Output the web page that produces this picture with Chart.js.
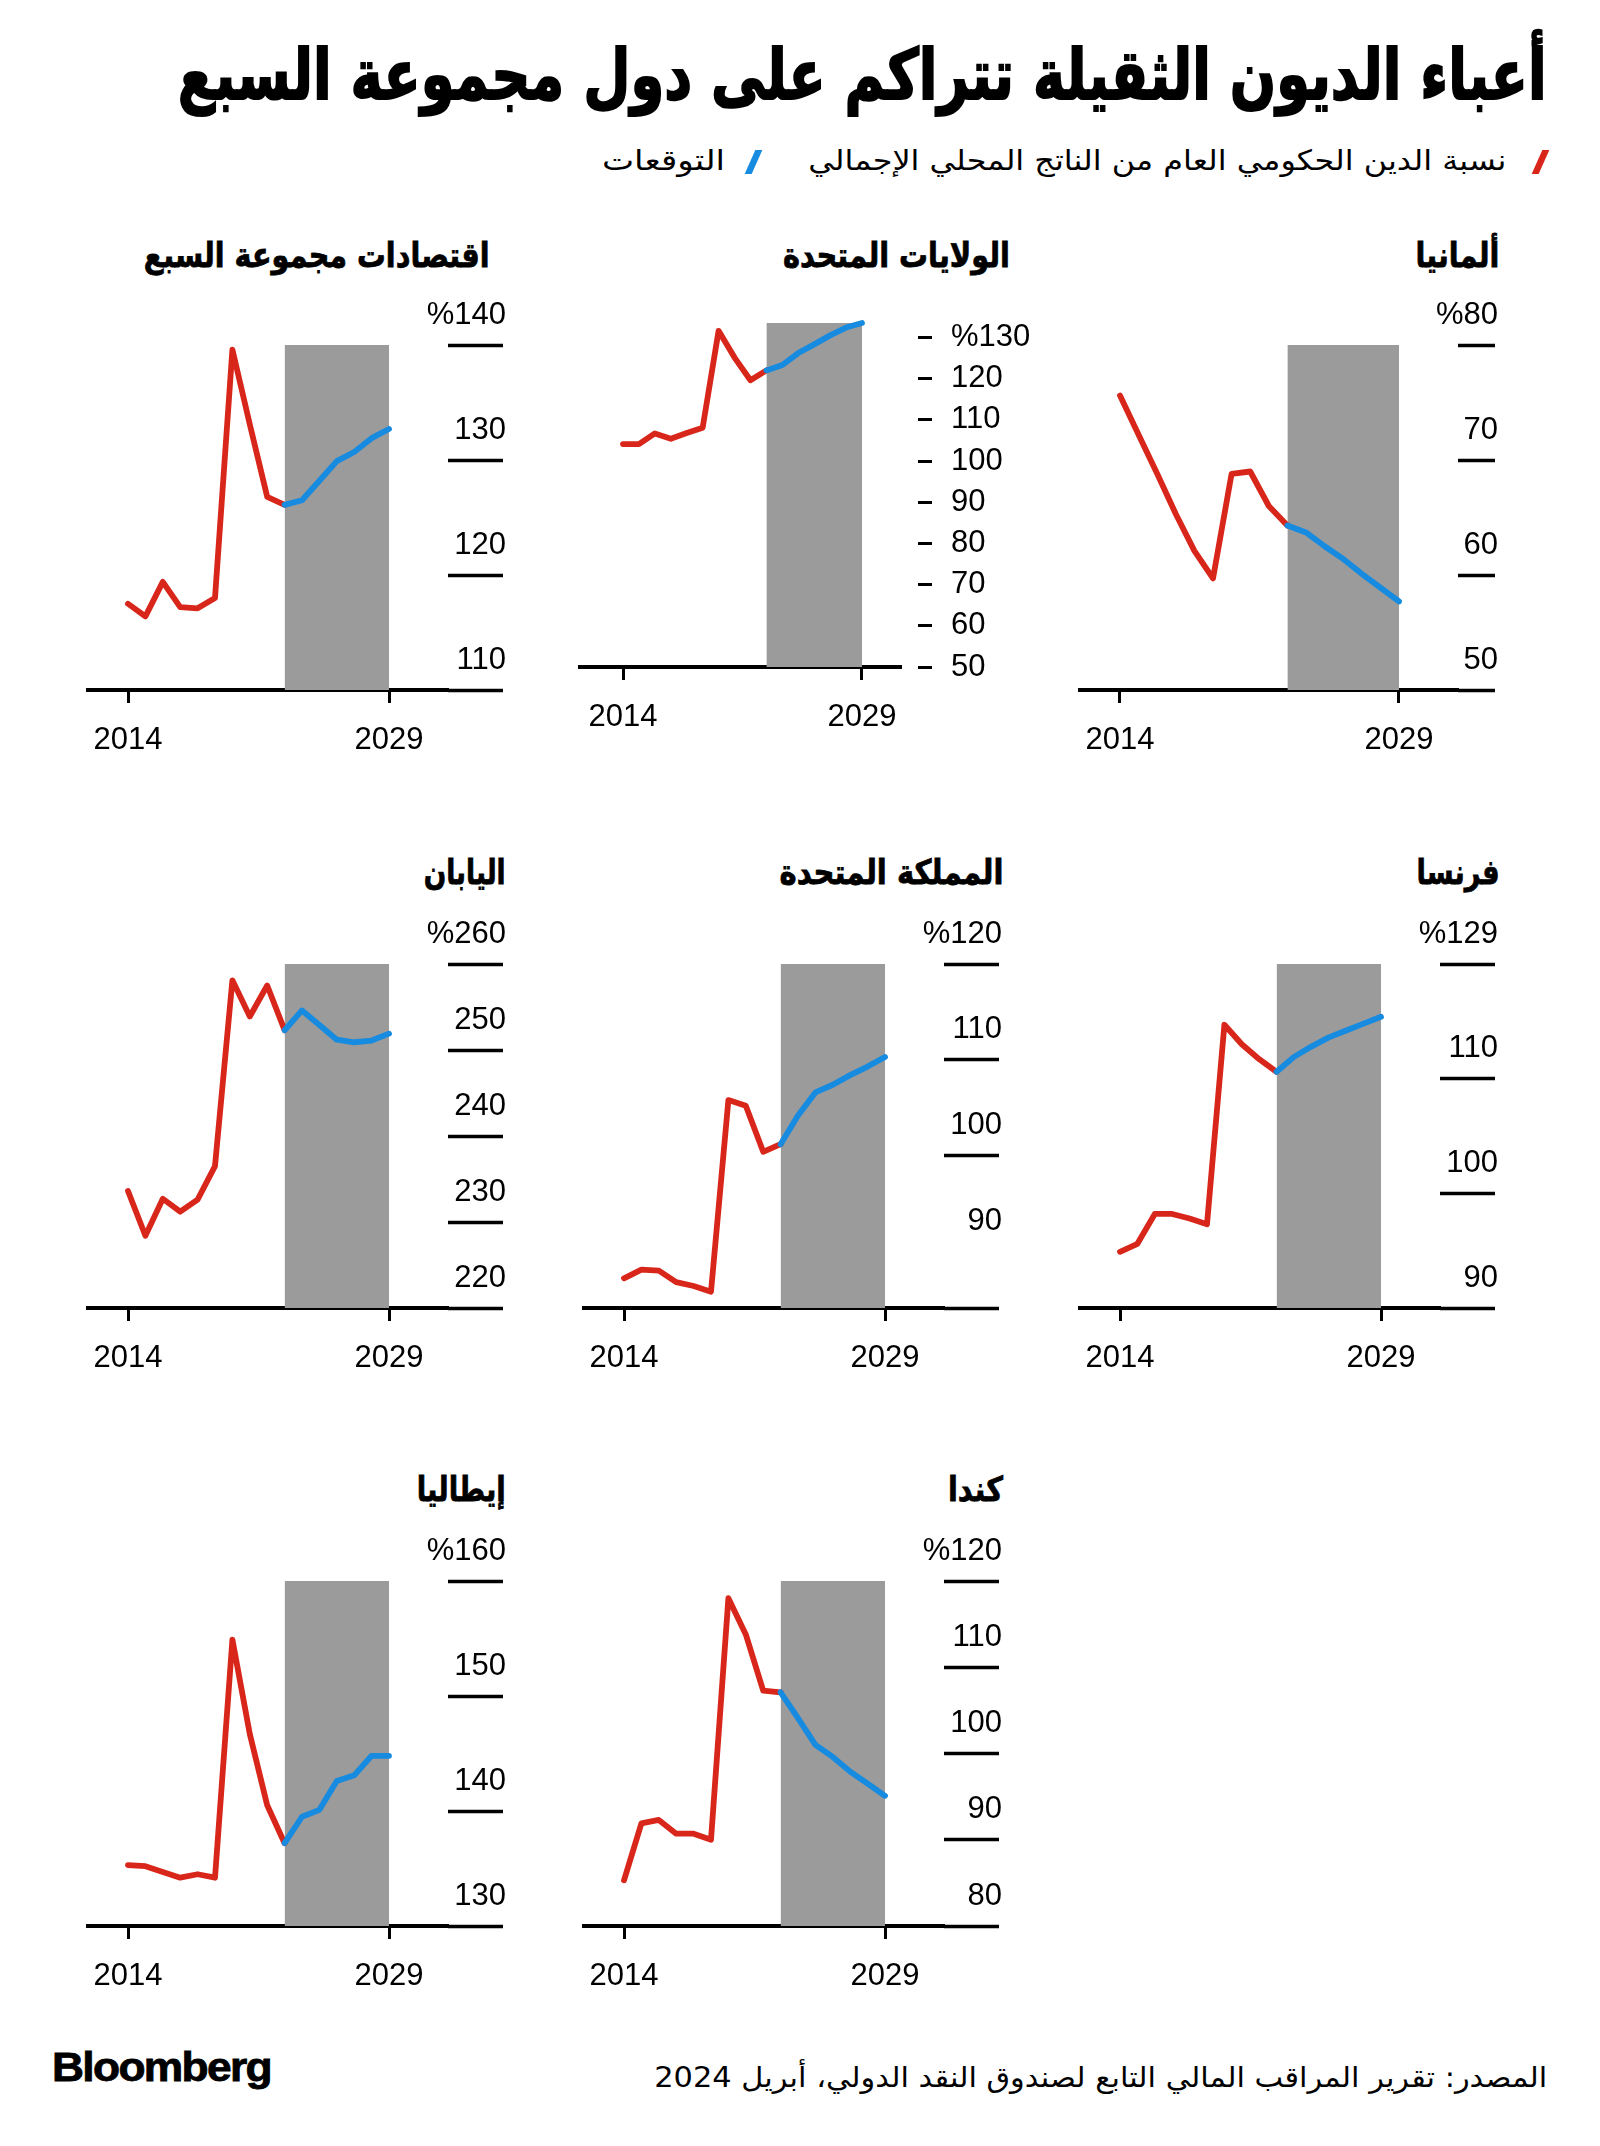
<!DOCTYPE html>
<html lang="ar">
<head>
<meta charset="utf-8">
<script src="https://cdn.jsdelivr.net/npm/chart.js@4.4.1/dist/chart.umd.min.js"></script>
<style>
  body { margin: 0; background: #fff; }
  #page { position: relative; width: 1600px; height: 2146px; overflow: hidden; background: #fff; color: #000; font-family: "DejaVu Sans", sans-serif; }
  .txt { position: absolute; white-space: nowrap; direction: rtl; line-height: 1.2; transform-origin: right center; }
  .title { font-weight: bold; font-size: 70px; -webkit-text-stroke: 2px #000; }
  .legend { font-size: 28px; }
  .ptitle { font-weight: bold; font-size: 34px; -webkit-text-stroke: 0.8px #000; }
  .source { font-size: 28px; }
  .logo { position: absolute; left: 52px; font-family: "Liberation Sans", Arial, sans-serif; font-weight: bold; font-size: 40px; letter-spacing: -1.5px; line-height: 1.2; transform-origin: left center; -webkit-text-stroke: 0.8px #000; }
  .slash { position: absolute; width: 7px; height: 24px; transform: skewX(-24deg); }
  canvas { position: absolute; }
</style>
</head>
<body>
<div id="page"></div>
<script>
// years
const histYears = [2014, 2015, 2016, 2017, 2018, 2019, 2020, 2021, 2022, 2023];
const fcstYears = [2023, 2024, 2025, 2026, 2027, 2028, 2029];
const forecastSpan = [2023, 2029];
const xTickYears = [2014, 2029];

// debt to GDP, %
const g7Hist = [117.5, 116.4, 119.4, 117.2, 117.1, 118.0, 139.6, 133.1, 126.8, 126.1];
const g7Fcst = [126.1, 126.5, 128.2, 129.9, 130.7, 131.9, 132.7];
const usHist = [104.1, 104.1, 106.7, 105.4, 106.8, 108.1, 131.6, 125.1, 119.6, 122.0];
const usFcst = [122.0, 123.3, 126.2, 128.3, 130.5, 132.4, 133.5];
const deHist = [75.6, 72.2, 68.8, 65.3, 62.1, 59.7, 68.8, 69.0, 66.0, 64.3];
const deFcst = [64.3, 63.7, 62.5, 61.4, 60.1, 58.9, 57.7];
const jpHist = [233.6, 228.4, 232.7, 231.2, 232.6, 236.5, 258.1, 253.9, 257.5, 252.3];
const jpFcst = [252.3, 254.6, 252.9, 251.2, 250.9, 251.1, 251.9];
const ukHist = [87.2, 88.1, 88.0, 86.8, 86.4, 85.8, 105.8, 105.2, 100.4, 101.2];
const ukFcst = [101.2, 104.2, 106.6, 107.4, 108.4, 109.3, 110.3];
const frHist = [94.9, 95.6, 98.2, 98.2, 97.8, 97.3, 114.7, 113.0, 111.7, 110.6];
const frFcst = [110.6, 111.9, 112.8, 113.6, 114.2, 114.8, 115.4];
const itHist = [135.3, 135.2, 134.7, 134.2, 134.5, 134.2, 154.9, 146.7, 140.5, 137.2];
const itFcst = [137.2, 139.5, 140.1, 142.6, 143.1, 144.8, 144.8];
const caHist = [85.3, 91.9, 92.3, 90.7, 90.7, 90.0, 118.0, 113.8, 107.3, 107.1];
const caFcst = [107.1, 104.1, 101.0, 99.6, 97.9, 96.5, 95.1];

// y ticks and their labels
const g7Ticks = [110, 120, 130, 140];
const g7Labels = ['110', '120', '130', '%140'];
const usTicks = [50, 60, 70, 80, 90, 100, 110, 120, 130];
const usLabels = ['50', '60', '70', '80', '90', '100', '110', '120', '%130'];
const deTicks = [50, 60, 70, 80];
const deLabels = ['50', '60', '70', '%80'];
const jpTicks = [220, 230, 240, 250, 260];
const jpLabels = ['220', '230', '240', '250', '%260'];
const ukTicks = [84.1, 90, 100, 110, 120];
const ukLabels = ['', '90', '100', '110', '%120'];
const frTicks = [90, 100, 110, 120];
const frLabels = ['90', '100', '110', '%129'];
const itTicks = [130, 140, 150, 160];
const itLabels = ['130', '140', '150', '%160'];
const caTicks = [80, 90, 100, 110, 120];
const caLabels = ['80', '90', '100', '110', '%120'];

const RED = '#d9261b';
const BLUE = '#168be0';
const BAND = '#9b9b9b';
const NUM_FONT = "'Liberation Sans', Arial, sans-serif";
const NUM_SIZE = 31;

const page = document.getElementById('page');

function addText(cls, text, right, cy, fs, width) {
  const el = document.createElement('div');
  el.className = 'txt ' + cls;
  el.textContent = text;
  el.style.right = (1600 - right) + 'px';
  el.style.top = (cy - fs * 0.6) + 'px';
  page.appendChild(el);
  if (width) {
    const w = el.getBoundingClientRect().width;
    el.style.transform = 'scaleX(' + (width / w) + ')';
  }
  return el;
}

function addSlash(x, cy, color) {
  const s = document.createElement('div');
  s.className = 'slash';
  s.style.left = (x - 3) + 'px';
  s.style.top = (cy - 12) + 'px';
  s.style.background = color;
  page.appendChild(s);
}

// header
addText('title', 'أعباء الديون الثقيلة تتراكم على دول مجموعة السبع', 1547, 75, 70, 1369);
addSlash(1540, 162, RED);
addText('legend', 'نسبة الدين الحكومي العام من الناتج المحلي الإجمالي', 1506, 161, 28, 698);
addSlash(753, 162, BLUE);
addText('legend', 'التوقعات', 725, 161, 28, 123);

// footer
addText('source', 'المصدر: تقرير المراقب المالي التابع لصندوق النقد الدولي، أبريل 2024', 1547, 2078, 28, 893);
const logo = document.createElement('div');
logo.className = 'logo';
logo.textContent = 'Bloomberg';
logo.style.top = (2067 - 24) + 'px';
page.appendChild(logo);
logo.style.transform = 'scaleX(' + (219 / logo.getBoundingClientRect().width) + ')';

const measureCtx = document.createElement('canvas').getContext('2d');
measureCtx.font = NUM_SIZE + 'px ' + NUM_FONT;
const textW = (s) => measureCtx.measureText(s).width;

const panels = [
  {title: 'اقتصادات مجموعة السبع', hist: g7Hist, fcst: g7Fcst, ticks: g7Ticks, labels: g7Labels, yMin: 110, yMax: 140,
   left: 86, top: 345, bottom: 690, titleRight: 490, titleW: 346, titleY: 255},
  {title: 'الولايات المتحدة', hist: usHist, fcst: usFcst, ticks: usTicks, labels: usLabels, yMin: 50, yMax: 133.5,
   left: 578, top: 322.5, bottom: 666.6, titleRight: 1010, titleW: 227, titleY: 255, us: true},
  {title: 'ألمانيا', hist: deHist, fcst: deFcst, ticks: deTicks, labels: deLabels, yMin: 50, yMax: 80,
   left: 1078, top: 345, bottom: 690, titleRight: 1499, titleW: 84, titleY: 255},
  {title: 'اليابان', hist: jpHist, fcst: jpFcst, ticks: jpTicks, labels: jpLabels, yMin: 220, yMax: 260,
   left: 86, top: 963.5, bottom: 1307, titleRight: 506, titleW: 82, titleY: 872},
  {title: 'المملكة المتحدة', hist: ukHist, fcst: ukFcst, ticks: ukTicks, labels: ukLabels, yMin: 84.1, yMax: 120,
   left: 582, top: 963.5, bottom: 1307, titleRight: 1003, titleW: 224, titleY: 872, hideTick: [90]},
  {title: 'فرنسا', hist: frHist, fcst: frFcst, ticks: frTicks, labels: frLabels, yMin: 90, yMax: 120,
   left: 1078, top: 963.5, bottom: 1307, titleRight: 1500, titleW: 83, titleY: 872},
  {title: 'إيطاليا', hist: itHist, fcst: itFcst, ticks: itTicks, labels: itLabels, yMin: 130, yMax: 160,
   left: 86, top: 1581, bottom: 1926, titleRight: 506, titleW: 89, titleY: 1489},
  {title: 'كندا', hist: caHist, fcst: caFcst, ticks: caTicks, labels: caLabels, yMin: 80, yMax: 120,
   left: 582, top: 1581, bottom: 1926, titleRight: 1003, titleW: 55, titleY: 1489},
];

function makePanel(p) {
  addText('ptitle', p.title, p.titleRight, p.titleY, 34, p.titleW);

  const widestNum = Math.max(...p.labels.filter(l => l.indexOf('%') < 0).map(textW));
  const tickLen = p.us ? 31 : Math.round(widestNum + 3);
  const axisW = p.us ? 128 : tickLen + 3;
  const chartW = p.us ? 323 : 417 - tickLen;
  const padL = p.us ? 45 : 42;
  const padR = p.us ? 39 : 59;
  const ppy = (chartW - padL - padR) / (xTickYears[1] - xTickYears[0]);
  const xMin = xTickYears[0] - padL / ppy;
  const xMax = xTickYears[1] + padR / ppy;

  const cv = document.createElement('canvas');
  const W = Math.round(chartW + axisW);
  const H = Math.round(p.bottom - p.top + 120);
  cv.width = W; cv.height = H;
  cv.style.left = p.left + 'px';
  cv.style.top = (p.top - 60) + 'px';
  page.appendChild(cv);

  const font = {family: NUM_FONT, size: NUM_SIZE};
  const hide = p.hideTick || [];

  new Chart(cv.getContext('2d'), {
    type: 'line',
    data: {
      datasets: [
        {data: fcstYears.map((x, i) => ({x, y: p.fcst[i]})), borderColor: BLUE, borderWidth: 5.8, order: 0},
        {data: histYears.map((x, i) => ({x, y: p.hist[i]})), borderColor: RED, borderWidth: 5.8, order: 1},
        {data: forecastSpan.map(x => ({x, y: p.yMax})), borderColor: 'rgba(0,0,0,0)', borderWidth: 0,
         backgroundColor: BAND, fill: 'start', order: 2}
      ]
    },
    options: {
      responsive: false,
      animation: false,
      layout: {padding: {top: 60, left: 0, right: 0, bottom: 0}},
      elements: {
        point: {radius: 0},
        line: {tension: 0, borderCapStyle: 'round', borderJoinStyle: 'round'}
      },
      datasets: {line: {clip: false}},
      plugins: {legend: {display: false}, tooltip: {enabled: false}},
      scales: {
        x: {
          type: 'linear', min: xMin, max: xMax,
          afterBuildTicks: s => { s.ticks = xTickYears.map(v => ({value: v})); },
          afterFit: s => { s.height = 60; s.paddingLeft = 0; s.paddingRight = 0; },
          border: {display: true, color: '#000', width: 4},
          grid: {drawOnChartArea: false, drawTicks: true, tickLength: 13, tickWidth: 3, tickColor: '#000'},
          ticks: {font, color: '#000', padding: 19, maxRotation: 0, autoSkip: false, callback: v => String(v)}
        },
        y: {
          type: 'linear', position: 'right', min: p.yMin, max: p.yMax,
          afterBuildTicks: s => { s.ticks = p.ticks.map(v => ({value: v})); },
          afterFit: s => { s.width = axisW; s.paddingTop = 0; s.paddingBottom = 0; },
          border: {display: false},
          grid: {
            drawOnChartArea: false, drawTicks: true, tickLength: tickLen,
            tickWidth: p.us ? 3 : 3.5,
            tickBorderDash: p.us ? [0, 17, 14, 200] : [],
            tickColor: ctx => (ctx.tick && hide.indexOf(ctx.tick.value) >= 0) ? 'rgba(0,0,0,0)' : '#000'
          },
          ticks: {
            font, color: '#000', autoSkip: false,
            mirror: !p.us,
            padding: p.us ? 19 : tickLen + 3,
            crossAlign: 'near',
            labelOffset: p.us ? 0 : -30,
            callback: (v, i) => p.labels[i]
          }
        }
      }
    }
  });
}

panels.forEach(makePanel);
</script>
</body>
</html>
